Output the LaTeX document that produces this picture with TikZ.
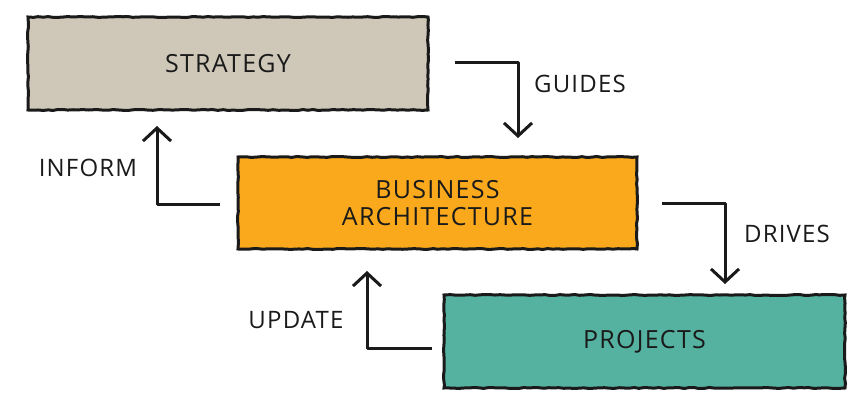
\documentclass[tikz,border=0pt]{standalone}
\usepackage{fontspec}
\setmainfont{Open Sans}[LetterSpace=5]
\usetikzlibrary{arrows.meta,decorations.pathmorphing}
\definecolor{stratc}{HTML}{CFC8B8}
\definecolor{bac}{HTML}{F9A91B}
\definecolor{projc}{HTML}{55B1A0}
\definecolor{inkc}{HTML}{1A1A1A}
\begin{document}
\begin{tikzpicture}[x=1pt,y=-1pt,
  rough/.style={decorate,decoration={random steps,segment length=5pt,amplitude=0.5pt}},
  box/.style={draw=inkc,line width=3pt,rough,minimum height=93pt,align=center,
    font=\fontsize{25}{27}\selectfont,text=inkc,inner sep=0pt},
  conn/.style={draw=inkc,line width=3pt,line join=round,
    -{Straight Barb[length=13pt,width=28pt,line width=3pt]}},
  lbl/.style={font=\fontsize{24}{26}\selectfont,text=inkc,inner sep=0pt}]
\useasboundingbox (0,0) rectangle (865,406);
\node[box,fill=stratc,minimum width=400pt] (S) at (228,63.5) {STRATEGY};
\node[box,fill=bac,minimum width=399pt,minimum height=92pt] (B) at (437.5,203) {BUSINESS\\ARCHITECTURE};
\node[box,fill=projc,minimum width=401pt] (P) at (644.5,341.5) {PROJECTS};
\coordinate (g1) at (455,63);
\coordinate (g2) at (518,138);
\coordinate (i1) at (220,205);
\coordinate (i2) at (157,126);
\coordinate (d1) at (662,204);
\coordinate (d2) at (725,284);
\coordinate (u1) at (432,348);
\coordinate (u2) at (367,271);
\draw[conn] (g1) -| (g2);
\draw[conn] (i1) -| (i2);
\draw[conn] (d1) -| (d2);
\draw[conn] (u1) -| (u2);
\node[lbl] (lg) at (580,84) {GUIDES};
\node[lbl] (li) at (88,168) {INFORM};
\node[lbl] (ld) at (787,234) {DRIVES};
\node[lbl] (lu) at (296,320) {UPDATE};
\end{tikzpicture}
\end{document}
